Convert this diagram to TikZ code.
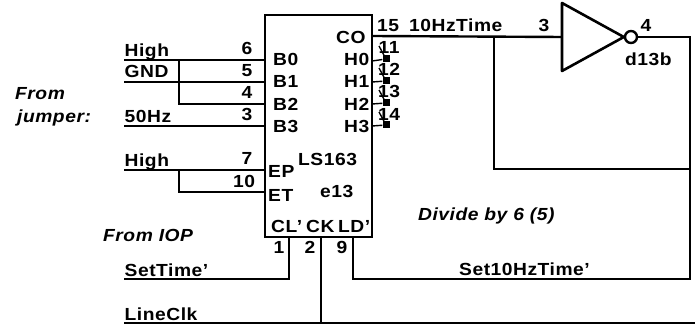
\documentclass[tikz,border=0pt]{standalone}
\usepackage{fontspec}
\setmainfont[FakeStretch=1.1,LetterSpace=3]{Liberation Sans}
\tikzset{
  wire/.style={line width=2.4pt},
  lbl/.style={inner sep=0pt, anchor=base west, font=\fontsize{17.5}{17.5}\bfseries},
  pin/.style={inner sep=0pt, anchor=base, font=\fontsize{17.5}{17.5}\bfseries},
  note/.style={inner sep=0pt, anchor=base west, font=\fontsize{17.5}{17.5}\bfseries\itshape},
  jump/.style={fill, inner sep=0pt, minimum size=7pt},
}
\begin{document}
\begin{tikzpicture}[x=1pt,y=-1pt]
    \useasboundingbox (0,0) rectangle (695,328);

        % The counter and the inverter
    \node[draw, line width=2.6pt, minimum width=107pt, minimum height=222pt, inner sep=0pt] (ic) at (318.5,126) {};
    \node[draw, line width=2.4pt, inner sep=0pt, minimum size=12pt, circle] (bub) at (631,37) {};
    \coordinate (invtop) at (562,3);
    \coordinate (invbot) at (562,71);
    \coordinate (invin) at (562,37);
    \draw[line width=2.6pt, line join=round] (invtop) -- (bub.west) -- (invbot) -- cycle;

        % Free ends of the wires
    \coordinate (b0in) at (124,60);
    \coordinate (b0) at (265,60);
    \coordinate (b1in) at (124,82);
    \coordinate (b1) at (265,82);
    \coordinate (b2) at (265,104);
    \coordinate (b3in) at (124,126);
    \coordinate (b3) at (265,126);
    \coordinate (epin) at (124,170);
    \coordinate (ep) at (265,170);
    \coordinate (et) at (265,192);
    \coordinate (tap0) at (179,60);
    \coordinate (tap2) at (179,104);
    \coordinate (tap3) at (179,170);
    \coordinate (tap4) at (179,192);
    \coordinate (co) at (372,36);
    \coordinate (fb) at (494,37);
    \coordinate (fbc) at (494,169);
    \coordinate (rt) at (690,37);
    \coordinate (rtc) at (690,169);
    \coordinate (rtb) at (690,279);
    \coordinate (clr) at (289,237);
    \coordinate (clrc) at (289,279);
    \coordinate (clrin) at (124,279);
    \coordinate (clk) at (321,237);
    \coordinate (clkc) at (321,323);
    \coordinate (clkl) at (124,323);
    \coordinate (clkr) at (695,323);
    \coordinate (ld) at (353,237);
    \coordinate (ldc) at (353,279);

        % Draw the wires
    \draw[wire] (b0in) -- (b0);
    \draw[wire] (b1in) -- (b1);
    \draw[wire] (tap0) -- (tap2) -- (b2);
    \draw[wire] (b3in) -- (b3);
    \draw[wire] (epin) -- (ep);
    \draw[wire] (tap3) -- (tap4) -- (et);
    \draw[wire] (co) -- (invin);
    \draw[wire] (fb) -- (fbc) -- (rtc);
    \draw[wire] (bub.east) -- (rt) -- (rtb) -- (ldc) -- (ld);
    \draw[wire] (clr) -- (clrc) -- (clrin);
    \draw[wire] (clk) -- (clkc);
    \draw[wire] (clkl) -- (clkr);

        % Outputs with their small squares
    \node[jump] (h0) at (386,59) {};
    \node[jump] (h1) at (386,81) {};
    \node[jump] (h2) at (386,103) {};
    \node[jump] (h3) at (386,125) {};
    \draw[line width=1.4pt] (372,61) -- (h0);
    \draw[line width=1.4pt] (372,82) -- (h1);
    \draw[line width=1.4pt] (372,104) -- (h2);
    \draw[line width=1.4pt] (372,126) -- (h3);
    \draw[line width=1.4pt] (379,46) -- (h0);
    \draw[line width=1.4pt] (379,68) -- (h1);
    \draw[line width=1.4pt] (379,90) -- (h2);
    \draw[line width=1.4pt] (379,112) -- (h3);

        % Wire labels
    \node[lbl] (thigh) at (124.5,57) {High};
    \node[lbl] (tgnd) at (124.5,78) {GND};
    \node[lbl] (tfifty) at (124.5,122.5) {50Hz};
    \node[lbl] (thigh2) at (124.5,167) {High};
    \node[lbl] (tset) at (124.5,276.5) {SetTime'};
    \node[lbl] (tclk) at (124.5,320.5) {LineClk};
    \node[lbl] (tten) at (409,32) {10HzTime};
    \node[lbl] (tload) at (459,276) {Set10HzTime'};
    \node[lbl] (tinv) at (625,66) {d13b};

        % Pin numbers
    \node[pin] (p6) at (247,55) {6};
    \node[pin] (p5) at (247,77) {5};
    \node[pin] (p4) at (247,98.5) {4};
    \node[pin] (p3) at (247,121) {3};
    \node[pin] (p7) at (247,165) {7};
    \node[pin] (p10) at (244,188) {10};
    \node[pin] (p1) at (279,254) {1};
    \node[pin] (p2) at (310,254) {2};
    \node[pin] (p9) at (342,254) {9};
    \node[pin] (p15) at (388,32) {15};
    \node[pin] (p11) at (389,54) {11};
    \node[pin] (p12) at (389,76) {12};
    \node[pin] (p13) at (389,98) {13};
    \node[pin] (p14) at (389,121) {14};
    \node[pin] (pin3) at (544,32) {3};
    \node[pin] (pin4) at (646,32) {4};

        % Text inside the counter
    \node[lbl] (tb0) at (273,66) {B0};
    \node[lbl] (tb1) at (273,88) {B1};
    \node[lbl] (tb2) at (273,110.5) {B2};
    \node[lbl] (tb3) at (273,132.5) {B3};
    \node[lbl] (tep) at (268,178) {EP};
    \node[lbl] (tet) at (268,202) {ET};
    \node[lbl] (tname) at (298,166) {LS163};
    \node[lbl] (tref) at (320,198) {e13};
    \node[lbl] (tcl) at (271,233) {CL'};
    \node[lbl] (tck) at (306,233) {CK};
    \node[lbl] (tld) at (338,233) {LD'};
    \node[lbl] (tco) at (336,44) {CO};
    \node[lbl] (th0) at (344,66) {H0};
    \node[lbl] (th1) at (344,88) {H1};
    \node[lbl] (th2) at (344,110.5) {H2};
    \node[lbl] (th3) at (344,132.5) {H3};

        % Notes
    \node[note] (nfrom) at (15,100) {From};
    \node[note] (njump) at (17,123) {jumper:};
    \node[note] (niop) at (103,242) {From IOP};
    \node[note] (ndiv) at (418,221) {Divide by 6 (5)};
\end{tikzpicture}
\end{document}
